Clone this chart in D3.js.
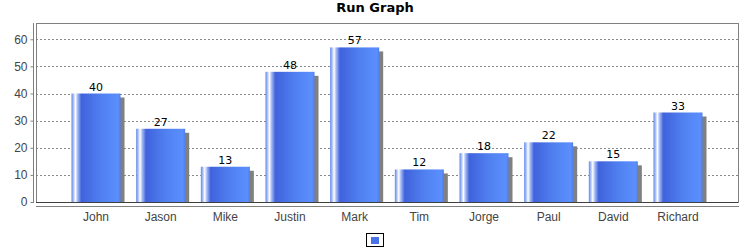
<!DOCTYPE html>
<html>
<head>
<meta charset="utf-8">
<script src="https://cdn.jsdelivr.net/npm/d3@7"></script>
<style>
  body { margin: 0; background: #fff; }
  svg { font-family: "DejaVu Sans", sans-serif; }
</style>
</head>
<body>
<div id="chart"></div>
<script>
var names = ["John", "Jason", "Mike", "Justin", "Mark", "Tim", "Jorge", "Paul", "David", "Richard"];
var runs = [40, 27, 13, 48, 57, 12, 18, 22, 15, 33];
var yTicks = [0, 10, 20, 30, 40, 50, 60];

var W = 750, H = 250;
var plot = { left: 36, right: 738, top: 23, bottom: 202 };

var svg = d3.select("#chart").append("svg")
  .attr("width", W)
  .attr("height", H);

// bar gradient, light streak near the left edge
var grad = svg.append("defs").append("linearGradient")
  .attr("id", "barGrad")
  .attr("x1", "0%").attr("x2", "100%")
  .attr("y1", "0%").attr("y2", "0%");
[[0, "#5f86ea"], [0.04, "#a9bff6"], [0.08, "#ffffff"], [0.12, "#a9bff6"],
 [0.2, "#4062dc"], [0.6, "#5080f0"], [0.95, "#5b8ffd"], [1, "#4f7ee8"]]
  .forEach(function (s) {
    grad.append("stop").attr("offset", s[0]).attr("stop-color", s[1]);
  });

var x = d3.scaleBand()
  .domain(names)
  .range([plot.left, plot.right])
  .paddingInner(0.242)
  .paddingOuter(0.549);

var y = d3.scaleLinear().domain([0, 66]).range([plot.bottom, plot.top]);

// title
svg.append("text")
  .attr("x", W / 2).attr("y", 12)
  .attr("text-anchor", "middle")
  .style("font-size", "13px")
  .style("font-weight", "bold")
  .text("Run Graph");

// gridlines
svg.append("g").selectAll("line")
  .data(yTicks.filter(function (d) { return d > 0; }))
  .enter().append("line")
  .attr("x1", plot.left).attr("x2", plot.right)
  .attr("y1", function (d) { return Math.round(y(d)) + 0.5; })
  .attr("y2", function (d) { return Math.round(y(d)) + 0.5; })
  .attr("stroke", "#8a8a8a")
  .attr("stroke-dasharray", "2,2");

// plot border
svg.append("rect")
  .attr("x", plot.left + 0.5).attr("y", plot.top + 0.5)
  .attr("width", plot.right - plot.left)
  .attr("height", plot.bottom - plot.top)
  .attr("fill", "none")
  .attr("stroke", "#808080");

// shadows
svg.append("g").selectAll("rect")
  .data(runs)
  .enter().append("rect")
  .attr("x", function (d, i) { return x(names[i]) + 4; })
  .attr("y", function (d) { return y(d) + 4; })
  .attr("width", x.bandwidth())
  .attr("height", function (d) { return y(0) - y(d) - 4; })
  .attr("fill", "#808080");

// bars
svg.append("g").selectAll("rect")
  .data(runs)
  .enter().append("rect")
  .attr("x", function (d, i) { return x(names[i]); })
  .attr("y", function (d) { return y(d); })
  .attr("width", x.bandwidth())
  .attr("height", function (d) { return y(0) - y(d); })
  .attr("fill", "url(#barGrad)");

// value labels
svg.append("g").selectAll("text")
  .data(runs)
  .enter().append("text")
  .attr("x", function (d, i) { return x(names[i]) + x.bandwidth() / 2; })
  .attr("y", function (d) { return y(d) - 3; })
  .attr("text-anchor", "middle")
  .style("font-size", "11px")
  .attr("fill", "#000")
  .text(function (d) { return d; });

// zero baseline
svg.append("line")
  .attr("x1", plot.left).attr("x2", plot.right)
  .attr("y1", plot.bottom + 0.5).attr("y2", plot.bottom + 0.5)
  .attr("stroke", "#404040");

// y axis
var yAxis = svg.append("g")
  .attr("transform", "translate(33.5,0)")
  .call(d3.axisLeft(y).tickValues(yTicks).tickSize(3).tickPadding(3));
yAxis.select(".domain").attr("stroke", "#808080").attr("d", "M0," + plot.top + "V" + (plot.bottom + 1));
yAxis.selectAll(".tick line").attr("stroke", "#808080");
yAxis.selectAll("text").style("font-size", "12px").attr("fill", "#444").attr("font-family", null);

// x axis
var xAxis = svg.append("g")
  .attr("transform", "translate(0,206.5)")
  .call(d3.axisBottom(x).tickSize(0).tickPadding(6));
xAxis.select(".domain").attr("stroke", "#808080").attr("d", "M" + plot.left + ",0H" + (plot.right + 1));
xAxis.selectAll("text").style("font-size", "12px").attr("fill", "#444").attr("font-family", null);

// legend
var lg = svg.append("g").attr("transform", "translate(366.5,233.5)");
lg.append("rect").attr("width", 17).attr("height", 13)
  .attr("fill", "#fff").attr("stroke", "#000");
lg.append("rect").attr("x", 4.5).attr("y", 3.5).attr("width", 8).attr("height", 7)
  .attr("fill", "#4a72e8");
</script>
</body>
</html>
